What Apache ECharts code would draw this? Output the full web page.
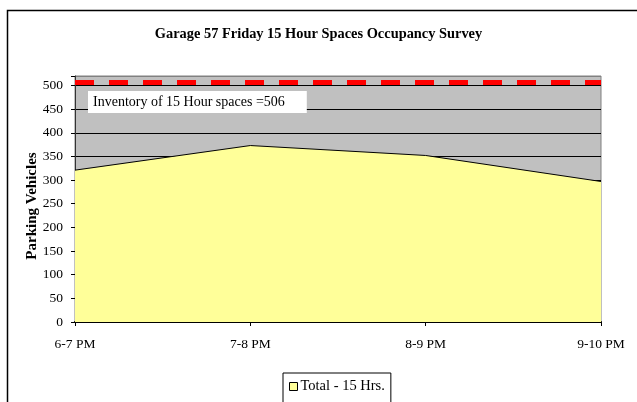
<!DOCTYPE html>
<html>
<head>
    <meta charset="utf-8">
    <script src="https://cdn.jsdelivr.net/npm/echarts@6/dist/echarts.min.js"></script>
    <style>
        html, body { margin: 0; padding: 0; background: #fff; }
    </style>
</head>
<body>
<div id="main" style="width: 637px;height:402px;"></div>
<script type="text/javascript">
    // data
    const hours = ['6-7 PM', '7-8 PM', '8-9 PM', '9-10 PM'];
    const total15 = [321, 373, 352, 297];
    const inventory = 506;
    const yTicks = [0, 50, 100, 150, 200, 250, 300, 350, 400, 450, 500];

    const serif = "'Liberation Serif', 'Times New Roman', serif";
    const myChart = echarts.init(document.getElementById('main'));

    // split line colours: black for every tick, grey on the top edge
    const splitColors = yTicks.map(() => '#000').concat(['#808080']);

    const option = {
        backgroundColor: '#fff',
        animation: false,
        title: {
            text: 'Garage 57 Friday 15 Hour Spaces Occupancy Survey',
            left: 'center',
            top: 22,
            textStyle: { fontFamily: serif, fontSize: 14.4, fontWeight: 'bold', color: '#000' }
        },
        legend: {
            data: ['Total - 15 Hrs.'],
            left: 283,
            top: 373,
            padding: [6, 6, 10, 6],
            borderColor: '#000',
            borderWidth: 1,
            backgroundColor: '#fff',
            icon: 'rect',
            itemWidth: 8,
            itemHeight: 8,
            itemGap: 4,
            textStyle: { fontFamily: serif, fontSize: 14.5, color: '#000', padding: [0, 0, 0, -2] },
            itemStyle: { borderColor: '#000', borderWidth: 1 }
        },
        grid: {
            left: 75,
            right: 36,
            top: 76,
            bottom: 80,
            show: true,
            backgroundColor: '#c0c0c0',
            borderColor: '#808080',
            borderWidth: 1
        },
        xAxis: {
            type: 'category',
            data: hours,
            boundaryGap: false,
            axisLine: { lineStyle: { color: '#000', width: 2 } },
            axisTick: { show: true, length: 4, lineStyle: { color: '#000' } },
            axisLabel: { fontFamily: serif, fontSize: 13.5, color: '#000', margin: 15 },
            splitLine: { show: false }
        },
        yAxis: {
            type: 'value',
            min: 0,
            max: 520,
            interval: 50,
            name: 'Parking Vehicles',
            nameLocation: 'middle',
            nameGap: 35,
            nameMoveOverlap: false,
            nameTextStyle: {
                fontFamily: serif, fontSize: 15, fontWeight: 'bold', color: '#000',
                padding: [0, 14, 0, 0]
            },
            axisLine: { show: true, lineStyle: { color: '#333', width: 1 } },
            axisTick: { show: true, inside: false, length: 4, lineStyle: { color: '#000' } },
            axisLabel: {
                fontFamily: serif, fontSize: 13.5, color: '#000', margin: 12,
                formatter: function (v) { return v % 50 === 0 ? String(v) : ''; }
            },
            splitLine: { show: true, lineStyle: { color: splitColors, width: 1 } }
        },
        series: [{
            name: 'Total - 15 Hrs.',
            type: 'line',
            data: total15,
            symbol: 'none',
            lineStyle: { color: '#000', width: 1 },
            itemStyle: { color: '#ffff99', borderColor: '#000', borderWidth: 1 },
            areaStyle: { color: '#ffff99', opacity: 1 },
            z: 2,
            markLine: {
                silent: true,
                symbol: 'none',
                label: { show: false },
                lineStyle: { color: '#ff0000', width: 5, type: [19, 15] },
                data: [{ yAxis: inventory }]
            }
        }],
        graphic: [
            {
                type: 'rect',
                left: 5,
                top: 8,
                shape: { width: 700, height: 500 },
                style: { fill: 'none', stroke: '#000', lineWidth: 1.5 },
                z: 100
            },
            {
                type: 'text',
                left: 88,
                top: 91,
                z: 100,
                style: {
                    text: 'Inventory of 15 Hour spaces =' + inventory,
                    fontFamily: serif,
                    fontSize: 14,
                    fill: '#000',
                    backgroundColor: '#fff',
                    padding: [4, 22, 4, 5]
                }
            }
        ]
    };

    myChart.setOption(option);
</script>
</body>
</html>
